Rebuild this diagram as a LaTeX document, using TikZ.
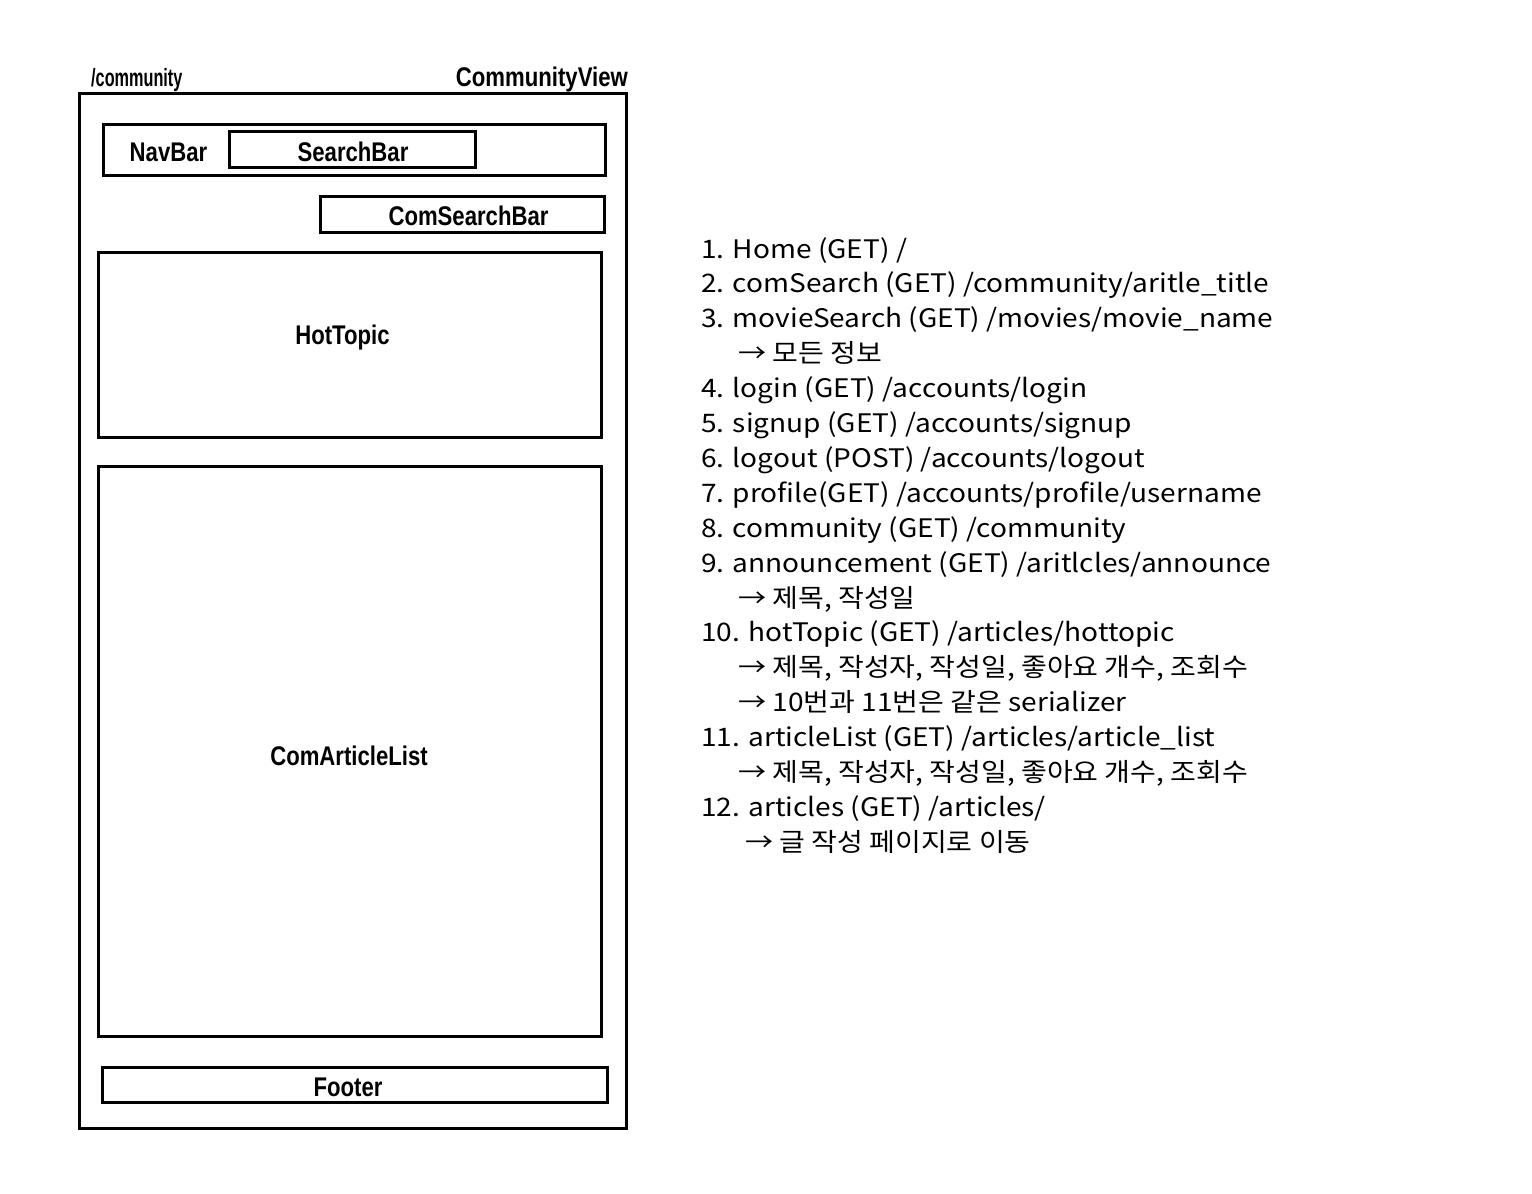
\documentclass[tikz,border=0pt]{standalone}
\usepackage{fontspec}
\newfontfamily\labfont[FakeStretch=0.82]{Liberation Sans}
\newfontfamily\labcfont[FakeStretch=0.65]{Liberation Sans}
\newfontfamily\krfont[FakeStretch=1.1]{Noto Sans CJK KR}
\begin{document}
\begin{tikzpicture}[x=1pt,y=-1pt,
  box/.style={draw=black,line width=3pt,inner sep=0pt,fill=none},
  lab/.style={font=\labfont\bfseries\fontsize{27}{32}\selectfont,inner sep=0pt,anchor=base},
  item/.style={font=\krfont\fontsize{25.5}{30}\selectfont,inner sep=0pt,anchor=base west}]
\useasboundingbox[fill=white] (0,0) rectangle (1532,1194);
% boxes
\node[box,minimum width=547pt,minimum height=1035pt] (outer) at (352.5,610.5) {};
\node[box,minimum width=502pt,minimum height=51pt] (navbar) at (354,149.5) {};
\node[box,minimum width=246pt,minimum height=36pt] (searchbar) at (352,149) {};
\node[box,minimum width=284pt,minimum height=36pt] (comsearch) at (462,214) {};
\node[box,minimum width=503pt,minimum height=185pt] (hottopic) at (349.5,344.5) {};
\node[box,minimum width=503pt,minimum height=570pt] (artlist) at (349.5,751) {};
\node[box,minimum width=505pt,minimum height=35pt] (footer) at (354.5,1084.5) {};
% labels
\node[lab,anchor=base west,font=\labcfont\bfseries\fontsize{25}{30}\selectfont] (route) at (91,86) {/community};
\node[lab,anchor=base east] (view) at (628,86) {CommunityView};
\node[lab] (navtxt) at (168.5,161) {NavBar};
\node[lab] (searchtxt) at (353,161) {SearchBar};
\node[lab] (comsearchtxt) at (468.5,225) {ComSearchBar};
\node[lab] (hottxt) at (342.5,344.5) {HotTopic};
\node[lab] (listtxt) at (349,765.5) {ComArticleList};
\node[lab] (foottxt) at (348,1096.5) {Footer};
% right list
\node[item] (l1) at (701,258.0) {1. Home (GET) /};
\node[item] (l2) at (701,292.9) {2. comSearch (GET) /community/aritle\_title};
\node[item] (l3) at (701,327.8) {3. movieSearch (GET) /movies/movie\_name};
\node[item] (l3a) at (738,362.7) {→ 모든 정보};
\node[item] (l4) at (701,397.6) {4. login (GET) /accounts/login};
\node[item] (l5) at (701,432.5) {5. signup (GET) /accounts/signup};
\node[item] (l6) at (701,467.4) {6. logout (POST) /accounts/logout};
\node[item] (l7) at (701,502.3) {7. profile(GET) /accounts/profile/username};
\node[item] (l8) at (701,537.2) {8. community (GET) /community};
\node[item] (l9) at (701,572.1) {9. announcement (GET) /aritlcles/announce};
\node[item] (l9a) at (738,607.0) {→ 제목, 작성일};
\node[item] (l10) at (701,641.9) {10. hotTopic (GET) /articles/hottopic};
\node[item] (l10a) at (738,676.8) {→ 제목, 작성자, 작성일, 좋아요 개수, 조회수};
\node[item] (l10b) at (738,711.7) {→ 10번과 11번은 같은 serializer};
\node[item] (l11) at (701,746.6) {11. articleList (GET) /articles/article\_list};
\node[item] (l11a) at (738,781.5) {→ 제목, 작성자, 작성일, 좋아요 개수, 조회수};
\node[item] (l12) at (701,816.4) {12. articles (GET) /articles/};
\node[item] (l12a) at (745,851.3) {→ 글 작성 페이지로 이동};
\end{tikzpicture}
\end{document}
